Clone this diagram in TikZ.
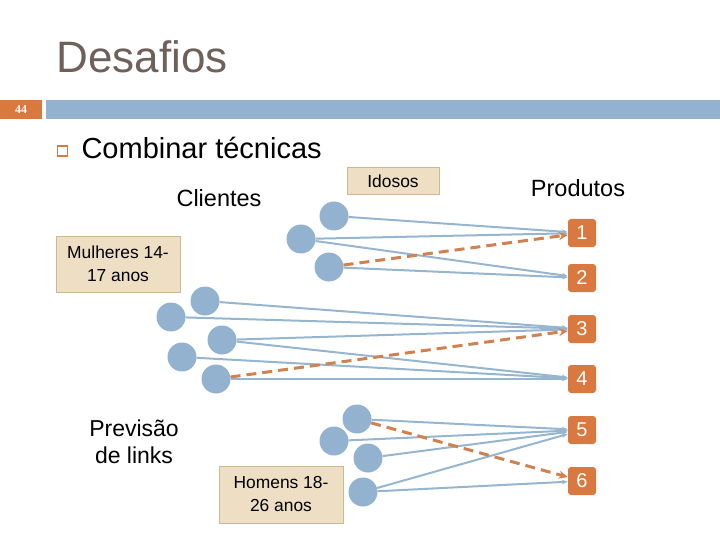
\documentclass[tikz,border=0pt]{standalone}
\usepackage{fontspec}
\setmainfont{Liberation Sans}
\newfontfamily\numfont{Liberation Serif}
\usepackage{xcolor}
\usetikzlibrary{arrows.meta, calc, positioning}
\definecolor{nodeblue}{RGB}{147,178,207}
\definecolor{linkblue}{RGB}{150,181,208}
\definecolor{prodorange}{RGB}{217,120,63}
\definecolor{dashorange}{RGB}{207,130,80}
\definecolor{boxfill}{RGB}{238,222,196}
\definecolor{boxdraw}{RGB}{205,185,145}
\definecolor{titlegray}{RGB}{110,96,90}
\tikzset{
    cliente/.style = {circle, fill=nodeblue, minimum size=29pt, inner sep=0pt},
    produto/.style = {rectangle, rounded corners=3pt, fill=prodorange, text=white,
        minimum size=28pt, inner sep=0pt, font=\fontsize{20}{20}\selectfont},
    grupo/.style = {rectangle, fill=boxfill, draw=boxdraw, line width=1pt,
        align=center, inner sep=0pt, font=\fontsize{17.4}{23}\selectfont},
    liga/.style = {draw=linkblue, line width=2pt, -{Stealth[length=6pt,width=4.5pt]}},
    prev/.style = {draw=dashorange, line width=3pt, dash pattern=on 10pt off 6pt,
        -{Stealth[length=9pt,width=8pt]}},
}

\begin{document}
\begin{tikzpicture}[x=1pt, y=-1pt]
\useasboundingbox (0,0) rectangle (720,540);

% header
\node[text=titlegray, font=\fontsize{44}{44}\selectfont] (title) at (142,57) {Desafios};
\fill[prodorange] (0,100) rectangle (42,119);
\fill[nodeblue] (46,100) rectangle (720,119);
\node[text=white, font=\numfont\bfseries\fontsize{12}{12}\selectfont] (page) at (21,109.5) {44};

\node[draw=prodorange, line width=1.2pt, minimum size=10pt, inner sep=0pt] (bullet) at (62.5,151) {};
\node[anchor=west, font=\fontsize{29}{29}\selectfont] (topic) at (78,148) {Combinar técnicas};

\node[font=\fontsize{23.5}{23.5}\selectfont] (clientes) at (219,198) {Clientes};
\node[font=\fontsize{23.5}{23.5}\selectfont] (produtos) at (578,188) {Produtos};

% produtos
\node[produto] (P1) at (582,233) {1};
\node[produto] (P2) at (582,278) {2};
\node[produto] (P3) at (582,329) {3};
\node[produto] (P4) at (582,379) {4};
\node[produto] (P5) at (582,430) {5};
\node[produto] (P6) at (582,481) {6};

% idosos
\node[grupo, minimum width=92pt, minimum height=27pt] (idosos) at (393,181.5) {Idosos};
\node[cliente] (I1) at (334,216) {};
\node[cliente] (I2) at (301,239) {};
\node[cliente] (I3) at (329,267) {};
\draw[liga] (I1) -- (P1);
\draw[liga] (I2) -- (P1);
\draw[liga] (I2) -- (P2);
\draw[liga] (I3) -- (P2);
\draw[prev] (I3) -- (P1);

% mulheres
\node[grupo, minimum width=124pt, minimum height=56pt] (mulheres) at (118,264) {Mulheres 14-\\17 anos};
\node[cliente] (M1) at (205,301) {};
\node[cliente] (M2) at (171,317) {};
\node[cliente] (M3) at (222,340) {};
\node[cliente] (M4) at (182,357) {};
\node[cliente] (M5) at (216,379) {};
\draw[liga] (M1) -- (P3);
\draw[liga] (M2) -- (P3);
\draw[liga] (M3) -- (P3);
\draw[liga] (M3) -- (P4);
\draw[liga] (M4) -- (P4);
\draw[liga] (M5) -- (P4);
\draw[prev] (M5) -- (P3);

\node[align=center, font=\fontsize{23}{27.5}\selectfont] (previsao) at (134,442) {Previsão\\de links};

% homens
\node[grupo, minimum width=124pt, minimum height=57pt] (homens) at (281,494.5) {Homens 18-\\26 anos};
\node[cliente] (H1) at (357,419) {};
\node[cliente] (H2) at (334,441) {};
\node[cliente] (H3) at (368,458) {};
\node[cliente] (H4) at (363,492) {};
\draw[liga] (H1) -- (P5);
\draw[liga] (H2) -- (P5);
\draw[liga] (H3) -- (P5);
\draw[liga] (H4) -- (P5);
\draw[liga] (H4) -- (P6);
\draw[prev] (H1) -- (P6);
\end{tikzpicture}
\end{document}
